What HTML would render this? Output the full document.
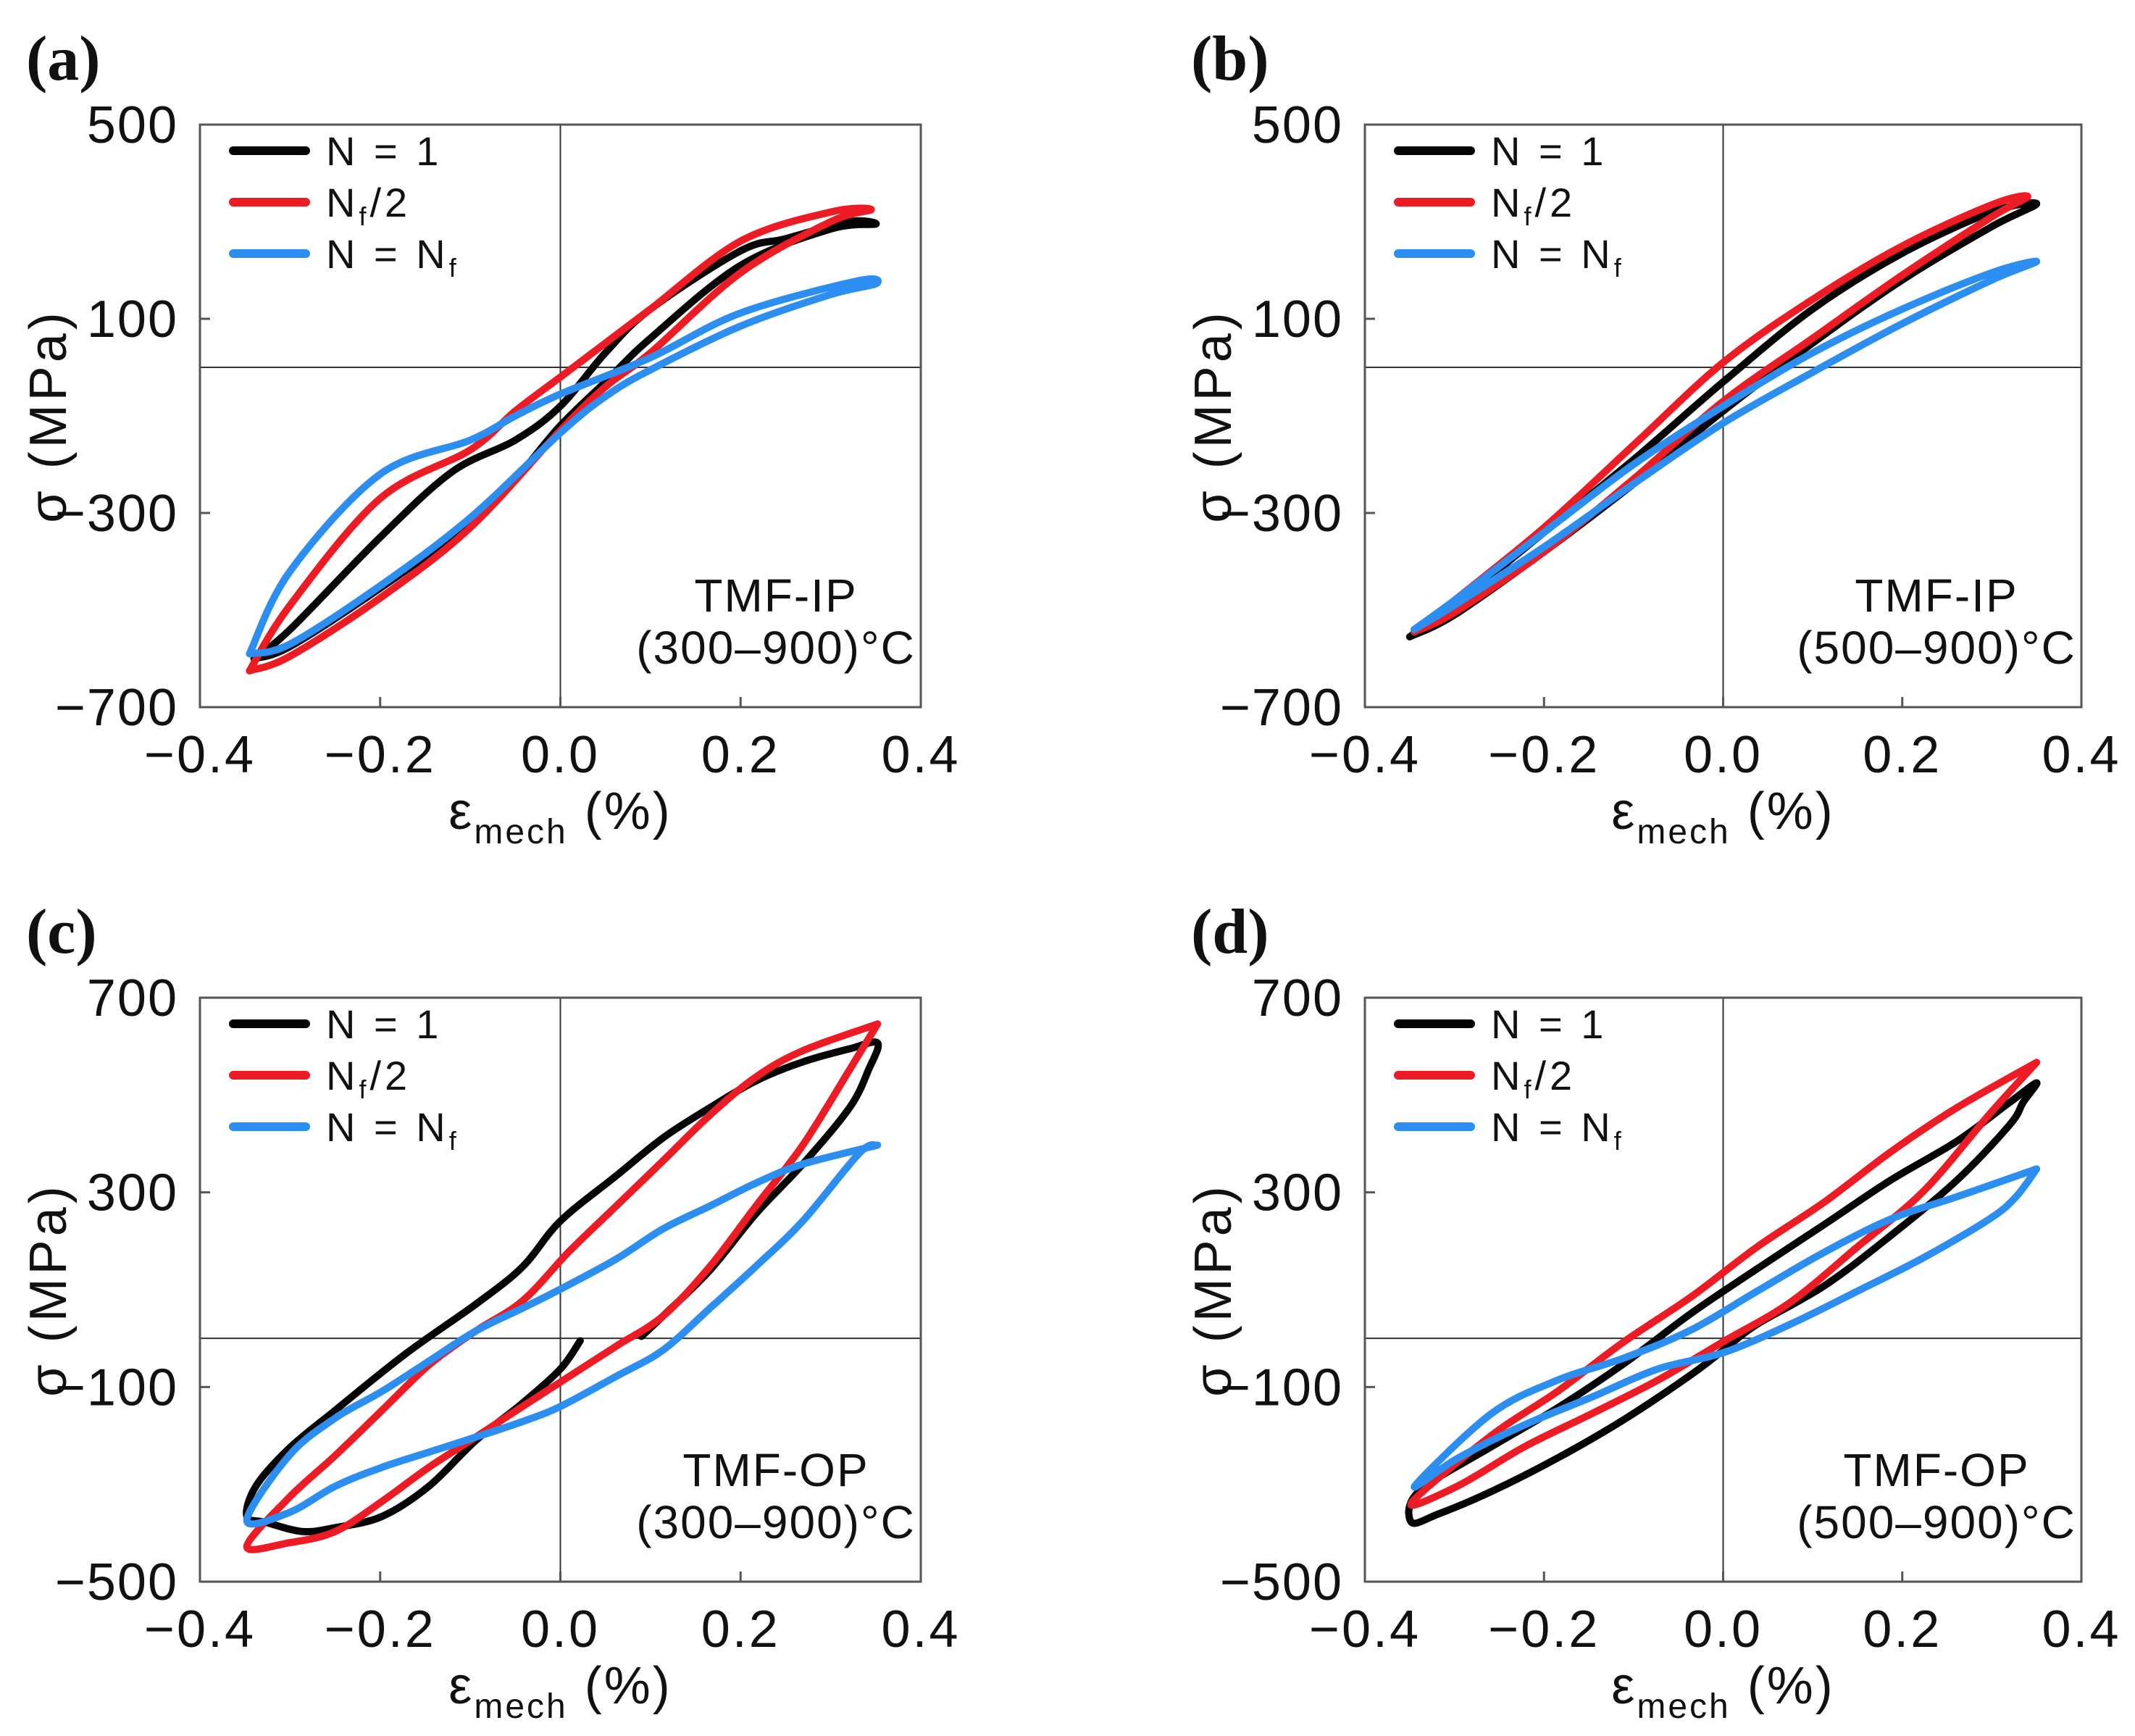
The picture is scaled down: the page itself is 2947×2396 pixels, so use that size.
<!DOCTYPE html>
<html><head><meta charset="utf-8"><style>
html,body{margin:0;padding:0;background:#fff;}
svg{display:block;font-family:"Liberation Sans",Arial,sans-serif;}
</style></head><body>
<svg id="fig" width="2947" height="2396" viewBox="0 0 2947 2396" xmlns="http://www.w3.org/2000/svg"></svg>
<script>
// ---- data (strain %, stress MPa) ----
const xTicks = [-0.4, -0.2, 0.0, 0.2, 0.4];
const xTickLabels = ["\u22120.4", "\u22120.2", "0.0", "0.2", "0.4"];
const yTicksTop = [500, 100, -300, -700];
const yTickLabelsTop = ["500", "100", "\u2212300", "\u2212700"];
const yTicksBottom = [700, 300, -100, -500];
const yTickLabelsBottom = ["700", "300", "\u2212100", "\u2212500"];
const seriesNames = ["N = 1", "Nf/2", "N = Nf"];

const aBlack = [[-0.34,-600],[-0.3,-575],[-0.2,-455],[-0.1,-320],[-0.05,-230],[0,-120],[0.05,-30],[0.1,60],[0.2,210],[0.3,285],[0.35,295],[0.32,300],[0.25,265],[0.2,240],[0.1,120],[0.05,30],[0,-80],[-0.05,-150],[-0.12,-215],[-0.2,-350],[-0.3,-540],[-0.34,-600]];
const aRed = [[-0.345,-625],[-0.3,-595],[-0.2,-475],[-0.1,-330],[0,-130],[0.05,-40],[0.1,30],[0.2,195],[0.3,300],[0.345,325],[0.3,320],[0.2,260],[0.1,120],[0.05,50],[0,-20],[-0.05,-90],[-0.1,-170],[-0.2,-270],[-0.3,-490],[-0.345,-625]];
const aBlue = [[-0.345,-590],[-0.3,-570],[-0.2,-450],[-0.1,-310],[0,-135],[0.05,-60],[0.1,-5],[0.2,85],[0.3,150],[0.35,172],[0.33,178],[0.2,112],[0.1,20],[0,-55],[-0.05,-100],[-0.1,-150],[-0.2,-220],[-0.3,-420],[-0.345,-590]];

const bBlack = [[-0.35,-555],[-0.3,-510],[-0.2,-380],[-0.1,-240],[0,-90],[0.1,50],[0.2,180],[0.3,290],[0.35,337],[0.3,320],[0.2,235],[0.1,120],[0,-30],[-0.1,-190],[-0.2,-340],[-0.3,-490],[-0.35,-555]];
const bRed = [[-0.345,-545],[-0.3,-505],[-0.2,-380],[-0.1,-230],[0,-70],[0.1,60],[0.2,190],[0.3,310],[0.34,352],[0.3,335],[0.2,250],[0.1,140],[0,10],[-0.1,-160],[-0.2,-330],[-0.3,-480],[-0.345,-545]];
const bBlue = [[-0.345,-540],[-0.3,-490],[-0.2,-370],[-0.1,-240],[0,-115],[0.1,-10],[0.2,90],[0.3,180],[0.35,218],[0.3,195],[0.2,120],[0.1,30],[0,-80],[-0.1,-200],[-0.2,-340],[-0.3,-480],[-0.345,-540]];

const cBlack = [[0.022,-5],[0,-63],[-0.042,-133],[-0.094,-210],[-0.146,-304],[-0.198,-366],[-0.25,-389],[-0.286,-397],[-0.327,-378],[-0.348,-366],[-0.338,-304],[-0.301,-226],[-0.25,-148],[-0.172,-32],[-0.094,70],[-0.042,147],[0,241],[0.062,334],[0.114,412],[0.166,474],[0.217,529],[0.269,568],[0.321,595],[0.352,607],[0.342,552],[0.321,474],[0.269,358],[0.217,256],[0.166,140],[0.114,46],[0.09,4]];
const cRed = [[0.352,646],[0.269,591],[0.217,537],[0.166,459],[0.114,365],[0.062,272],[0.01,179],[-0.042,77],[-0.094,15],[-0.146,-55],[-0.198,-148],[-0.25,-241],[-0.301,-327],[-0.348,-428],[-0.301,-420],[-0.25,-397],[-0.198,-335],[-0.146,-265],[-0.094,-203],[-0.042,-140],[0.01,-78],[0.062,-16],[0.114,46],[0.166,148],[0.217,272],[0.269,397],[0.321,552],[0.352,646]];
const cBlue = [[0.352,397],[0.269,358],[0.217,319],[0.166,272],[0.114,225],[0.062,163],[0,101],[-0.042,62],[-0.094,15],[-0.146,-47],[-0.198,-109],[-0.25,-164],[-0.301,-241],[-0.348,-374],[-0.301,-358],[-0.25,-304],[-0.198,-265],[-0.146,-234],[-0.094,-203],[-0.042,-171],[0,-140],[0.062,-78],[0.114,-24],[0.166,62],[0.217,148],[0.269,241],[0.332,381],[0.352,397]];

const dBlack = [[0.005,-17],[-0.036,-75],[-0.11,-166],[-0.185,-246],[-0.259,-315],[-0.318,-361],[-0.348,-378],[-0.34,-315],[-0.259,-223],[-0.185,-143],[-0.11,-51],[-0.036,51],[0.038,143],[0.113,234],[0.187,325],[0.261,405],[0.32,485],[0.35,525],[0.335,485],[0.32,439],[0.261,325],[0.187,211],[0.113,108],[0.038,29],[0.005,-17]];
const dRed = [[0.35,567],[0.261,474],[0.187,383],[0.113,280],[0.038,188],[-0.036,85],[-0.11,-6],[-0.185,-109],[-0.259,-200],[-0.348,-338],[-0.296,-303],[-0.222,-223],[-0.147,-155],[-0.073,-86],[0.001,-6],[0.075,74],[0.15,188],[0.224,303],[0.298,462],[0.35,567]];
const dBlue = [[0.35,348],[0.261,291],[0.187,245],[0.113,177],[0.038,97],[-0.036,17],[-0.11,-40],[-0.185,-86],[-0.259,-155],[-0.344,-303],[-0.296,-246],[-0.222,-178],[-0.147,-121],[-0.073,-63],[0.001,-29],[0.075,29],[0.15,97],[0.224,166],[0.298,246],[0.327,291],[0.35,348]];

const COLORS = ["#050505", "#ec1b24", "#2b8ef0"];
const NS = "http://www.w3.org/2000/svg";
const svg = document.getElementById("fig");

function mk(tag, attrs, parent) {
  const e = document.createElementNS(NS, tag);
  for (const k in attrs) e.setAttribute(k, attrs[k]);
  (parent || svg).appendChild(e);
  return e;
}

function smoothPath(P) {
  let d = "M" + P[0][0].toFixed(1) + "," + P[0][1].toFixed(1);
  for (let i = 0; i < P.length - 1; i++) {
    const p0 = P[i - 1] || P[i], p1 = P[i], p2 = P[i + 1], p3 = P[i + 2] || P[i + 1];
    const c1x = p1[0] + (p2[0] - p0[0]) / 6, c1y = p1[1] + (p2[1] - p0[1]) / 6;
    const c2x = p2[0] - (p3[0] - p1[0]) / 6, c2y = p2[1] - (p3[1] - p1[1]) / 6;
    d += " C" + c1x.toFixed(1) + "," + c1y.toFixed(1) + " " + c2x.toFixed(1) + "," + c2y.toFixed(1) + " " + p2[0].toFixed(1) + "," + p2[1].toFixed(1);
  }
  return d;
}

function panel(cfg) {
  const g = mk("g", {});
  
  
  const L = cfg.x0, R = cfg.x1, T = cfg.y0, B = cfg.y1;
  const sx = v => L + (v + 0.4) / 0.8 * (R - L);
  const sy = v => T + (cfg.ymax - v) / (cfg.ymax - cfg.ymin) * (B - T);

  const zx = mk("line", {x1: sx(0), x2: sx(0), y1: T, y2: B, stroke: "#333", "stroke-width": 2}, g);
  
  
  const zy = mk("line", {x1: L, x2: R, y1: sy(0), y2: sy(0), stroke: "#333", "stroke-width": 2}, g);
  
  

  const sets = [cfg.black, cfg.red, cfg.blue];
  const snames = ["series-n1", "series-nf-half", "series-nf"];
  sets.forEach((pts, i) => {
    const P = pts.map(p => [sx(p[0]), sy(p[1])]);
    const p = mk("path", {d: smoothPath(P), fill: "none", stroke: COLORS[i], "stroke-width": 10, "stroke-linejoin": "round", "stroke-linecap": "round"}, g);
    
    
  });

  const fr = mk("rect", {x: L, y: T, width: R - L, height: B - T, fill: "none", stroke: "#555", "stroke-width": 3}, g);
  
  

  xTicks.forEach((v, i) => {
    const t = mk("line", {x1: sx(v), x2: sx(v), y1: B, y2: B - 14, stroke: "#555", "stroke-width": 3}, g);
    
    
    const tx = mk("text", {x: sx(v), y: B + 90, "text-anchor": "middle", "font-size": 72, "letter-spacing": 3, fill: "#111"}, g);
    tx.textContent = xTickLabels[i];
    
    
  });
  cfg.yt.forEach((v, i) => {
    const t = mk("line", {x1: L, x2: L + 14, y1: sy(v), y2: sy(v), stroke: "#555", "stroke-width": 3}, g);
    
    
    const tx = mk("text", {x: L - 30, y: sy(v) + 25, "text-anchor": "end", "font-size": 72, "letter-spacing": 2, fill: "#111"}, g);
    tx.textContent = cfg.ytl[i];
    
    
  });

  const yt = mk("text", {x: 0, y: 0, transform: "translate(" + (L - 185) + "," + ((T + B) / 2) + ") rotate(-90)", "text-anchor": "middle", "font-size": 72, "letter-spacing": 5, fill: "#111"}, g);
  yt.textContent = "\u03C3 (MPa)";
  
  
  const xt = mk("text", {x: (L + R) / 2, y: B + 168, "text-anchor": "middle", "font-size": 72, "letter-spacing": 3, fill: "#111"}, g);
  xt.innerHTML = '\u03B5<tspan font-size="48" dy="20">mech</tspan><tspan dy="-20"> (%)</tspan>';
  
  

  const pl = mk("text", {x: L - 240, y: T - 62, "font-size": 88, "font-weight": "bold", "font-family": "Liberation Serif, serif", fill: "#111"}, g);
  pl.textContent = "(" + cfg.id + ")";
  
  

  const legLabels = ['N = 1', 'N<tspan font-size="36" dy="12">f</tspan><tspan dy="-12">/2</tspan>', 'N = N<tspan font-size="36" dy="12">f</tspan>'];
  legLabels.forEach((lab, i) => {
    const ly = T + 36 + i * 71;
    const ln = mk("line", {x1: L + 46, x2: L + 146, y1: ly, y2: ly, stroke: COLORS[i], "stroke-width": 12, "stroke-linecap": "round"}, g);
    
    
    const tx = mk("text", {x: L + 174, y: ly + 20, "font-size": 56, "letter-spacing": 5, fill: "#111"}, g);
    tx.innerHTML = lab;
    
    
  });

  const a1 = mk("text", {x: R - 200, y: B - 132, "text-anchor": "middle", "font-size": 64, "letter-spacing": 2, fill: "#111"}, g);
  a1.textContent = cfg.mode;
  
  
  const a2 = mk("text", {x: R - 200, y: B - 60, "text-anchor": "middle", "font-size": 64, "letter-spacing": 2, fill: "#111"}, g);
  a2.textContent = cfg.range;
  
  
}

panel({id: "a", x0: 276, x1: 1271, y0: 172, y1: 976, ymax: 500, ymin: -700, yt: yTicksTop, ytl: yTickLabelsTop, black: aBlack, red: aRed, blue: aBlue, mode: "TMF-IP", range: "(300\u2013900)\u00B0C"});
panel({id: "b", x0: 1884, x1: 2873, y0: 172, y1: 976, ymax: 500, ymin: -700, yt: yTicksTop, ytl: yTickLabelsTop, black: bBlack, red: bRed, blue: bBlue, mode: "TMF-IP", range: "(500\u2013900)\u00B0C"});
panel({id: "c", x0: 276, x1: 1271, y0: 1377, y1: 2183, ymax: 700, ymin: -500, yt: yTicksBottom, ytl: yTickLabelsBottom, black: cBlack, red: cRed, blue: cBlue, mode: "TMF-OP", range: "(300\u2013900)\u00B0C"});
panel({id: "d", x0: 1884, x1: 2873, y0: 1377, y1: 2183, ymax: 700, ymin: -500, yt: yTicksBottom, ytl: yTickLabelsBottom, black: dBlack, red: dRed, blue: dBlue, mode: "TMF-OP", range: "(500\u2013900)\u00B0C"});
</script>
</body></html>
